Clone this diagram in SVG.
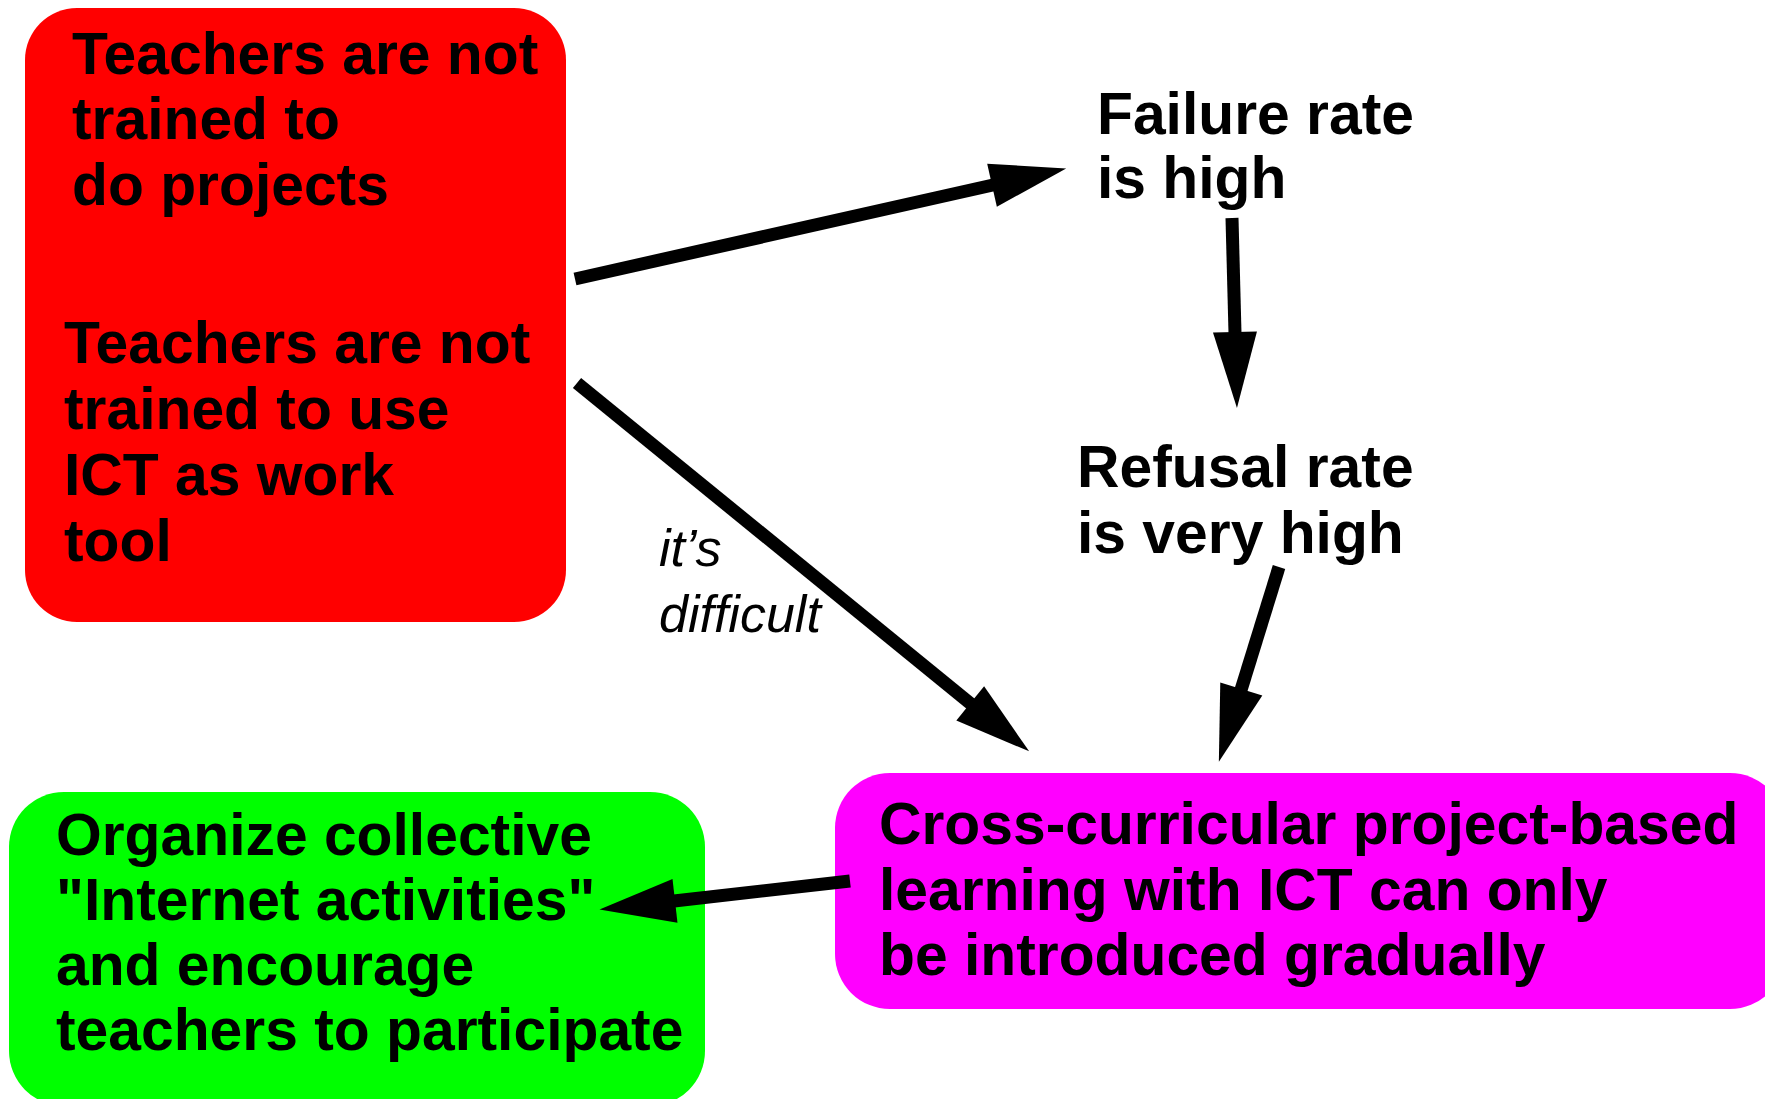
<svg xmlns="http://www.w3.org/2000/svg" width="1765" height="1099" viewBox="0 0 1765 1099">
  <style>
    .lbl { font-family: "Liberation Sans", Arial, sans-serif; font-weight: bold; font-size: 58.8px; fill: #000; }
    .note { font-family: "Liberation Sans", Arial, sans-serif; font-style: italic; font-size: 52px; fill: #000; }
    .conn { stroke: #000; stroke-width: 13; fill: none; marker-end: url(#head); }
  </style>
  <defs>
    <marker id="head" markerUnits="userSpaceOnUse" markerWidth="80" markerHeight="50" viewBox="0 -25 80 50" refX="1" refY="0" orient="auto" overflow="visible">
      <path d="M0,-22 L76,0 L0,22 z" fill="#000"/>
    </marker>
  </defs>
  <rect width="1765" height="1099" fill="#fff"/>

  <!-- causes -->
  <g id="teachers">
    <rect x="25" y="8" width="541" height="614" rx="52" fill="#ff0000"/>
    <text class="lbl" x="72" y="74">Teachers are not</text>
    <text class="lbl" x="72" y="139">trained to</text>
    <text class="lbl" x="72" y="205">do projects</text>
    <text class="lbl" x="64" y="363">Teachers are not</text>
    <text class="lbl" x="64" y="429">trained to use</text>
    <text class="lbl" x="64" y="495">ICT as work</text>
    <text class="lbl" x="64" y="561">tool</text>
  </g>

  <g id="failure">
    <text class="lbl" x="1097" y="134">Failure rate</text>
    <text class="lbl" x="1097" y="198">is high</text>
  </g>

  <g id="refusal">
    <text class="lbl" x="1077" y="487">Refusal rate</text>
    <text class="lbl" x="1077" y="553">is very high</text>
  </g>

  <!-- consequence -->
  <g id="gradual">
    <rect x="835" y="773" width="950" height="236" rx="55" fill="#ff00ff"/>
    <text class="lbl" x="879" y="844">Cross-curricular project-based</text>
    <text class="lbl" x="879" y="910">learning with ICT can only</text>
    <text class="lbl" x="879" y="975">be introduced gradually</text>
  </g>

  <!-- action -->
  <g id="organize">
    <rect x="9" y="792" width="696" height="314" rx="55" fill="#00ff00"/>
    <text class="lbl" x="56" y="855">Organize collective</text>
    <text class="lbl" x="56" y="920">"Internet activities"</text>
    <text class="lbl" x="56" y="985">and encourage</text>
    <text class="lbl" x="56" y="1050">teachers to participate</text>
  </g>

  <g id="connectors">
    <line class="conn" x1="575" y1="279" x2="993" y2="185"/>
    <line class="conn" x1="1232" y1="218" x2="1235" y2="333"/>
    <line class="conn" x1="1279" y1="567" x2="1241" y2="690"/>
    <line class="conn" x1="577" y1="383" x2="971" y2="704"/>
    <line class="conn" x1="850" y1="881" x2="674" y2="901"/>
    <text class="note" x="659" y="566">it’s</text>
    <text class="note" x="659" y="632">difficult</text>
  </g>
</svg>
